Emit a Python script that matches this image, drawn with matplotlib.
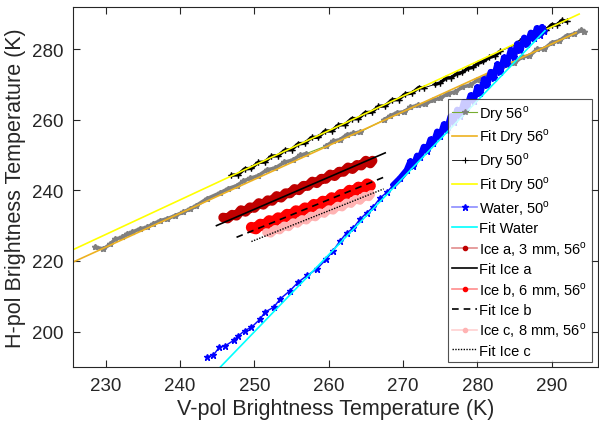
import matplotlib
matplotlib.use("Agg")
import matplotlib.pyplot as plt

plt.rcParams['font.family'] = ['Liberation Sans', 'DejaVu Sans']
plt.rcParams['mathtext.fontset'] = 'custom'
plt.rcParams['mathtext.rm'] = 'Liberation Sans'

# Dry 56 deg (grey points, green connecting line)
dry56_v = [228.6, 229.7, 230.6, 231.3, 232.2, 232.8, 233.5, 234.6, 235.5, 236.4,
           237.3, 238.2, 239.3, 240.4, 241.3, 242.2, 243.6, 245.4, 246.5, 247.6,
           248.5, 249.4, 250.5, 251.7, 252.8, 254.0, 255.2, 256.1, 257.0,
           259.7, 260.6, 261.5, 262.4, 263.3, 264.2,
           267.4, 268.3, 269.2, 270.1, 271.0, 272.0, 273.0, 274.0, 275.0, 276.0,
           277.0, 278.0, 279.0, 280.0, 281.0, 282.0, 283.0, 284.0, 285.0, 286.0,
           287.0, 288.0, 289.0, 290.0, 291.0, 292.0, 293.0, 294.0, 294.3]
dry56_h = [223.9, 223.4, 224.8, 226.2, 226.7, 227.6, 228.1, 229.1, 229.5, 230.5,
           231.4, 231.9, 232.8, 233.8, 234.7, 235.7, 237.6, 239.3, 240.5, 241.3,
           242.6, 243.4, 244.1, 245.8, 246.3, 247.9, 248.6, 249.9, 250.4,
           252.6, 253.9, 254.3, 255.7, 256.1, 256.5,
           259.9, 261.1, 262.0, 262.2, 263.5, 264.1, 264.4, 265.6, 266.0, 267.4,
           267.8, 269.3, 269.7, 271.2, 272.0, 273.3, 274.0, 275.6, 276.0, 277.8,
           278.0, 279.9, 280.1, 281.8, 282.3, 283.8, 284.2, 285.3, 284.9]
dry56_runs = [(0, 29), (29, 35), (35, 64)]
fit_dry56_v = [225.0, 293.3]
fit_dry56_h = [219.1, 284.6]

# Dry 50 deg (black)
dry50_v = [246.9, 247.8, 248.7, 249.6, 250.5, 251.4, 252.3, 253.2, 254.1, 255.0,
           255.9, 256.8, 257.7, 258.6, 259.5, 260.4, 261.3, 262.2, 263.1, 264.0,
           264.9, 265.8, 266.7, 267.6, 268.5, 269.4, 270.3, 271.2, 272.1, 272.8,
           274.3, 275.0, 275.8, 276.5, 277.2, 278.0, 278.7, 279.4, 280.1, 280.8,
           281.6, 282.4, 283.1,
           285.1, 285.8, 286.5, 287.2, 287.9, 288.6, 289.3, 290.0, 290.7, 291.4, 292.0]
dry50_h = [244.3, 244.4, 246.1, 246.2, 247.9, 248.0, 249.7, 249.8, 251.4, 251.5,
           253.2, 253.3, 255.0, 255.0, 256.8, 256.8, 258.5, 258.6, 260.3, 260.3,
           262.0, 262.1, 263.8, 263.9, 265.6, 265.7, 267.3, 267.5, 269.1, 269.0,
           270.0, 270.4, 271.8, 271.9, 273.0, 273.4, 274.5, 274.8, 276.0, 276.5,
           277.6, 278.1, 279.4,
           281.2, 282.3, 282.6, 284.0, 284.2, 285.6, 285.5, 286.9, 286.8, 288.2, 287.8]
dry50_runs = [(0, 30), (30, 43), (43, 54)]
fit_dry50_v = [225.0, 293.7]
fit_dry50_h = [222.6, 289.9]

# Water 50 deg (blue)
water_v = [243.6, 244.5, 245.3, 246.1, 247.2, 247.8, 248.7, 249.6, 250.8, 251.4,
           252.6, 253.5, 254.8, 255.9, 257.1, 258.4, 259.7, 260.6, 261.5, 262.4,
           263.3, 264.2, 265.1, 266.0, 266.9, 267.8, 268.7, 269.6, 270.5, 271.0,
           271.4, 271.9, 272.3, 272.8, 273.2, 273.7, 274.1, 274.6, 275.0, 275.5,
           275.9, 276.4, 276.8, 277.3, 277.7, 278.2, 278.6, 279.1, 279.5, 280.0,
           280.4, 280.9, 281.3, 281.8, 282.2, 282.7, 283.1, 283.6, 284.0, 284.5,
           284.9, 285.4, 285.8, 286.3, 286.7, 287.2, 287.6, 288.0, 288.4, 288.7, 289.0]
water_h = [192.8, 193.4, 195.6, 196.0, 197.5, 198.7, 200.3, 201.2, 203.6, 205.5,
           206.9, 209.3, 211.6, 214.0, 215.9, 217.7, 220.6, 222.9, 225.6, 227.9,
           229.3, 231.8, 233.6, 235.3, 237.8, 239.4, 241.5, 243.4, 245.7, 248.2,
           246.9, 249.8, 249.4, 252.3, 251.2, 254.4, 253.3, 256.6, 255.3, 258.7,
           257.0, 260.9, 259.4, 262.8, 261.1, 265.0, 263.5, 266.9, 265.3, 269.2,
           267.6, 271.4, 269.7, 273.5, 271.8, 275.7, 273.6, 277.6, 275.9, 279.7,
           277.8, 281.5, 279.6, 283.2, 281.3, 284.6, 283.0, 285.9, 284.1, 286.2, 285.0]
water_dense_from = 26
fit_water_v = [245.3, 289.1]
fit_water_h = [189.7, 285.2]

# Ice a, 3 mm, 56 deg
icea_v = [245.8, 246.4, 247.0, 247.6, 248.2, 248.8, 249.4, 250.0, 250.6, 251.2,
          251.8, 252.4, 253.0, 253.6, 254.2, 254.8, 255.4, 256.0, 256.6, 257.2,
          257.8, 258.4, 259.0, 259.6, 260.2, 260.8, 261.4, 262.0, 262.6, 263.2,
          263.8, 264.4, 265.0, 265.6, 265.9]
icea_h = [232.3, 232.0, 233.1, 232.8, 234.4, 233.9, 235.2, 235.0, 236.4, 235.9,
          237.2, 237.0, 238.4, 237.9, 239.2, 239.1, 240.4, 240.0, 241.3, 241.2,
          242.5, 242.0, 243.3, 243.2, 244.5, 244.0, 245.3, 245.2, 246.5, 246.0,
          247.2, 247.0, 248.4, 247.6, 248.4]
fit_icea_v = [244.9, 267.6]
fit_icea_h = [230.0, 250.6]

# Ice b, 6 mm, 56 deg
iceb_v = [249.6, 250.2, 250.8, 251.4, 252.0, 252.6, 253.2, 253.8, 254.4, 255.0,
          255.6, 256.2, 256.8, 257.4, 258.0, 258.6, 259.2, 259.8, 260.4, 261.0,
          261.6, 262.2, 262.8, 263.4, 264.0, 264.6, 265.2, 265.6]
iceb_h = [229.5, 229.1, 230.4, 230.0, 231.4, 231.0, 232.2, 231.9, 233.2, 232.8,
          234.2, 233.8, 235.0, 234.7, 236.0, 235.6, 236.9, 236.6, 237.9, 237.4,
          238.8, 238.6, 240.0, 239.5, 240.9, 240.4, 241.8, 241.3]
fit_iceb_v = [247.6, 267.4]
fit_iceb_h = [226.7, 243.7]

# Ice c, 8 mm, 56 deg
icec_v = [251.6, 252.2, 252.8, 253.4, 254.0, 254.6, 255.2, 255.8, 256.4, 257.0,
          257.6, 258.2, 258.8, 259.4, 260.0, 260.6, 261.2, 261.8, 262.4, 263.0,
          263.6, 264.2, 264.8, 265.4, 265.7]
icec_h = [228.1, 227.8, 229.0, 228.7, 230.0, 229.6, 230.9, 230.6, 231.8, 231.5,
          232.8, 232.4, 233.7, 233.4, 234.6, 234.3, 235.6, 235.2, 236.5, 236.2,
          237.5, 237.1, 238.4, 238.1, 238.9]
fit_icec_v = [249.6, 267.4]
fit_icec_h = [225.5, 240.4]

deg = '$^{\\mathrm{o}}$'
grey = '#808080'
darkred = '#BF0000'
pink = '#FFB3B3'
band = dict(solid_joinstyle='round', solid_capstyle='round')

fig = plt.figure(figsize=(5.99, 4.27), dpi=100)
ax = fig.add_axes([0.1219, 0.1375, 0.876, 0.8438])

# dry 56: green line joins the runs, grey markers cover the runs
ax.plot(dry56_v, dry56_h, color='#77AC30', lw=0.8, marker='*', ms=4,
        mec=grey, mfc=grey, label='Dry 56' + deg)
for a, b in dry56_runs:
    ax.plot(dry56_v[a:b], dry56_h[a:b], color=grey, lw=2.6, marker='*', ms=4, **band)
ax.plot(fit_dry56_v, fit_dry56_h, color='#EDB120', lw=1.2, label='Fit Dry 56' + deg)

ax.plot(dry50_v, dry50_h, color='black', lw=0.6, marker='+', ms=4, mew=0.8,
        label='Dry 50' + deg)
for a, b in dry50_runs:
    ax.plot(dry50_v[a:b], dry50_h[a:b], color='black', lw=2.4, marker='+', ms=4, **band)
ax.plot(fit_dry50_v, fit_dry50_h, color='#FFFF00', lw=1.2, label='Fit Dry 50' + deg)

ax.plot(water_v, water_h, color=(0, 0, 1, 0.45), lw=1.2, marker='*', ms=4.5,
        mec='blue', mfc='blue', label='Water, 50' + deg)
ax.plot(water_v, water_h, color='blue', lw=0.8)
ax.plot(water_v[water_dense_from:], water_h[water_dense_from:], color='blue', lw=4.5,
        marker='*', ms=4, **band)
ax.plot(fit_water_v, fit_water_h, color='#00FFFF', lw=1.2, label='Fit Water')

ax.plot(icea_v, icea_h, color=darkred, lw=7, **band)
ax.plot(icea_v, icea_h, color=(0.75, 0, 0, 0.45), lw=1.2, marker='.', ms=6,
        mec=darkred, mfc=darkred, label='Ice a, 3 mm, 56' + deg)
ax.plot(fit_icea_v, fit_icea_h, color='black', lw=1.2, label='Fit Ice a')

ax.plot(iceb_v, iceb_h, color='red', lw=8, **band)
ax.plot(iceb_v, iceb_h, color=(1, 0, 0, 0.45), lw=1.2, marker='.', ms=6,
        mec='red', mfc='red', label='Ice b, 6 mm, 56' + deg)
ax.plot(fit_iceb_v, fit_iceb_h, color='black', lw=1.2, ls=(0, (4, 3)), label='Fit Ice b')

ax.plot(icec_v, icec_h, color=pink, lw=6, **band)
ax.plot(icec_v, icec_h, color=(1, 0.7, 0.7, 0.6), lw=1.2, marker='.', ms=6,
        mec=pink, mfc=pink, label='Ice c, 8 mm, 56' + deg)
ax.plot(fit_icec_v, fit_icec_h, color='black', lw=1, ls=(0, (1, 1)), label='Fit Ice c')

ax.set_xlim(225.6, 296.2)
ax.set_ylim(189.9, 291.9)
ax.set_xticks([230, 240, 250, 260, 270, 280, 290])
ax.set_yticks([200, 220, 240, 260, 280])

dark = '#262626'
for s in ax.spines.values():
    s.set_color(dark)
    s.set_linewidth(0.8)
ax.tick_params(direction='in', length=5, width=0.8, top=True, right=True,
               colors=dark, labelsize=13.5, pad=7)
ax.set_xlabel('V-pol Brightness Temperature (K)', fontsize=15.5, color=dark, labelpad=3)
ax.set_ylabel('H-pol Brightness Temperature (K)', fontsize=15.5, color=dark, labelpad=4)

leg = ax.legend(loc='lower right', bbox_to_anchor=(0.989, 0.015), borderaxespad=0,
                fontsize=10.5, frameon=True, fancybox=False, edgecolor=dark,
                handlelength=1.7, handletextpad=0.15, labelspacing=0.28,
                borderpad=0.3, numpoints=1)
leg.get_frame().set_linewidth(0.8)

fig.savefig('out.png', dpi=100)
